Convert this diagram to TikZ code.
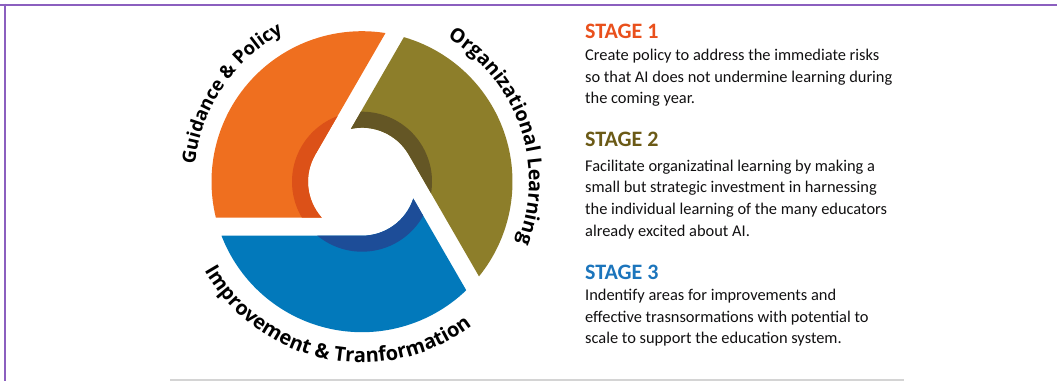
\documentclass[tikz,border=0pt]{standalone}
\usepackage{fontspec}
\setmainfont{Carlito}
\newfontfamily\labelfont{Open Sans}
\usetikzlibrary{decorations.text}

\definecolor{orangeblade}{HTML}{EF6F1F}
\definecolor{orangeband}{HTML}{DC5118}
\definecolor{oliveblade}{HTML}{8D7E2A}
\definecolor{oliveband}{HTML}{645625}
\definecolor{blueblade}{HTML}{0279BB}
\definecolor{blueband}{HTML}{1D4D98}
\definecolor{stageone}{HTML}{E9501C}
\definecolor{stagetwo}{HTML}{6B5A16}
\definecolor{stagethree}{HTML}{1C75BC}
\definecolor{bodytext}{HTML}{111011}
\definecolor{frameline}{HTML}{8B5FBF}
\definecolor{rulegray}{HTML}{D4D4D4}

% one blade of the ring, drawn for the blue one; the others are rotated
\newcommand{\bladepath}{(201.02:150.5) -- (270:54) arc[start angle=270, end angle=341.81, radius=54pt] -- (313.84:150.5) arc[start angle=313.84, end angle=201.02, radius=150.5pt] -- cycle}

\tikzset{
  ringlabel/.style={decorate, decoration={text along path, text align=center}},
  stagehead/.style={anchor=base west, inner sep=0pt, font=\bfseries\fontsize{22}{22}\selectfont},
  stagebody/.style={anchor=base west, inner sep=0pt, align=left, text=bodytext, font=\fontsize{16.4}{21.7}\selectfont}
}

\begin{document}
\begin{tikzpicture}[x=1pt,y=1pt]
	\useasboundingbox (0,0) rectangle (1057,381);
	% frame
	\draw[frameline, line width=2pt] (0,376.3) -- (1057,376.3);
	\draw[frameline, line width=2pt] (5.3,377.3) -- (5.3,0);
	\draw[rulegray, line width=2pt] (170,1) -- (904,1);

	% ring
	\begin{scope}[shift={(362,199.3)}]
		\foreach \ang/\col/\dk in {0/blueblade/blueband, 120/oliveblade/oliveband, 240/orangeblade/orangeband}{
			\begin{scope}[rotate=\ang]
				\fill[\col] \bladepath;
				\begin{scope}
					\clip \bladepath;
					\fill[\dk] (0,0) circle[radius=70pt];
				\end{scope}
			\end{scope}
		}
		\path[ringlabel, decoration={text={|\labelfont\bfseries\fontsize{18.5}{18.5}\selectfont|Guidance {\&} Policy}}]
			(206:168) arc[start angle=206, end angle=86, radius=168pt];
		\path[ringlabel, decoration={text={|\labelfont\bfseries\fontsize{19.5}{19.5}\selectfont|Organizational Learning}}]
			(79:167) arc[start angle=79, end angle=-41, radius=167pt];
		\path[ringlabel, decoration={text={|\labelfont\bfseries\fontsize{20}{20}\selectfont|Improvement {\&} Tranformation}}]
			(190:181) arc[start angle=190, end angle=327, radius=181pt];
	\end{scope}

	% stages
	\node[stagehead, text=stageone] (head1) at (585,342.7) {STAGE 1};
	\node[stagebody] (body1) at (585,277) {Create policy to address the immediate risks\\so that AI does not undermine learning during\\the coming year.};
	\node[stagehead, text=stagetwo] (head2) at (585,234.3) {STAGE 2};
	\node[stagebody] (body2) at (585,144.7) {Facilitate organizatinal learning by making a\\small but strategic investment in harnessing\\the individual learning of the many educators\\already excited about AI.};
	\node[stagehead, text=stagethree] (head3) at (585,101.7) {STAGE 3};
	\node[stagebody] (body3) at (585,37.3) {Indentify areas for improvements and\\effective trasnsormations with potential to\\scale to support the education system.};
\end{tikzpicture}
\end{document}
